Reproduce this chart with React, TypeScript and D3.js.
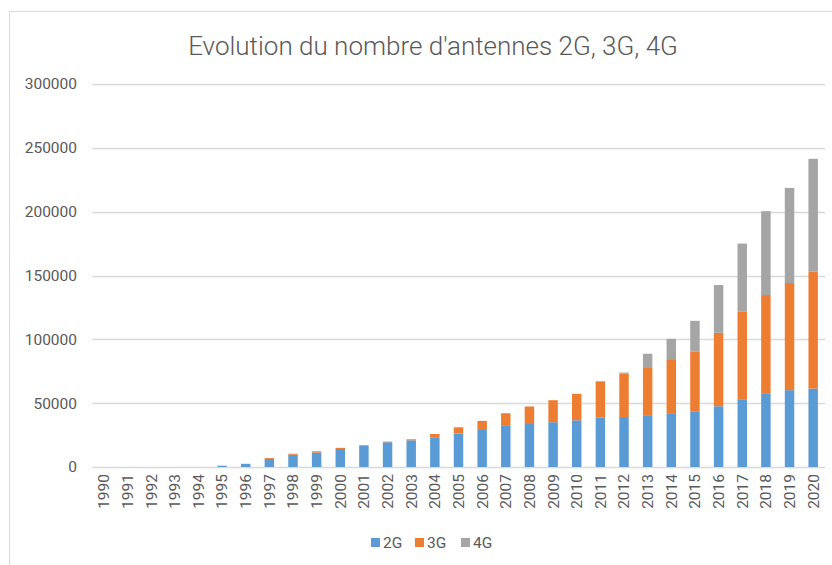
import React, { useEffect, useRef } from "react";
import * as d3 from "d3";

// Years on the x axis
const years = [
  "1990", "1991", "1992", "1993", "1994", "1995", "1996", "1997", "1998", "1999",
  "2000", "2001", "2002", "2003", "2004", "2005", "2006", "2007", "2008", "2009",
  "2010", "2011", "2012", "2013", "2014", "2015", "2016", "2017", "2018", "2019", "2020",
];

// Antenna counts per technology
const g2 = [
  0, 0, 0, 0, 0, 1000, 2500, 6300, 9600, 11300,
  14100, 16700, 19400, 20900, 23300, 26200, 29000, 32200, 33700, 35100,
  36600, 38600, 39200, 40600, 41600, 43200, 47600, 52600, 57800, 60200, 61500,
];
const g3 = [
  0, 0, 0, 0, 0, 0, 0, 700, 800, 1000,
  900, 500, 500, 800, 2600, 4900, 7100, 9900, 13700, 17200,
  20700, 28300, 34100, 37600, 42900, 47000, 57500, 69300, 76900, 83900, 91500,
];
const g4 = [
  0, 0, 0, 0, 0, 0, 0, 0, 0, 0,
  0, 0, 0, 0, 0, 0, 0, 0, 0, 0,
  0, 500, 700, 10500, 15900, 24300, 37400, 53100, 65700, 74500, 88400,
];

const seriesNames = ["2G", "3G", "4G"];
const yTicks = [0, 50000, 100000, 150000, 200000, 250000, 300000];

export default function App() {
  const chartRef = useRef<HTMLDivElement>(null);

  useEffect(() => {
    const width = 832;
    const height = 565;
    const margin = { top: 84, right: 7, bottom: 98, left: 92 };
    const font = "Roboto, 'Liberation Sans', sans-serif";
    const textColor = "#595959";

    const color = d3
      .scaleOrdinal<string>()
      .domain(seriesNames)
      .range(["#5B9BD5", "#ED7D31", "#A5A5A5"]);

    // Build table for stacking
    const table = years.map((y, i) => ({ year: y, "2G": g2[i], "3G": g3[i], "4G": g4[i] }));
    const stacked = d3.stack<any>().keys(seriesNames)(table);

    const x = d3
      .scaleBand()
      .domain(years)
      .range([margin.left, width - margin.right])
      .paddingInner(0.6)
      .paddingOuter(0.3);

    const y = d3
      .scaleLinear()
      .domain([0, 300000])
      .range([height - margin.bottom, margin.top]);

    const svg = d3
      .create("svg")
      .attr("width", width)
      .attr("height", height)
      .style("position", "absolute")
      .style("left", "0px")
      .style("top", "0px")
      .style("background", "#fff")
      .style("font-family", font);

    // chart frame
    svg
      .append("rect")
      .attr("x", 9.5)
      .attr("y", 11.5)
      .attr("width", 900)
      .attr("height", 700)
      .attr("fill", "#fff")
      .attr("stroke", "#d9d9d9");

    // title
    svg
      .append("text")
      .attr("x", 433)
      .attr("y", 55)
      .attr("text-anchor", "middle")
      .attr("fill", textColor)
      .style("font-size", "26px")
      .style("font-weight", 300)
      .text("Evolution du nombre d'antennes 2G, 3G, 4G");

    // gridlines
    svg
      .append("g")
      .selectAll("line")
      .data(yTicks)
      .join("line")
      .attr("x1", margin.left)
      .attr("x2", width - margin.right)
      .attr("y1", (d) => Math.round(y(d)) + 0.5)
      .attr("y2", (d) => Math.round(y(d)) + 0.5)
      .attr("stroke", "#d9d9d9")
      .attr("stroke-width", 1.3);

    // y tick labels
    svg
      .append("g")
      .selectAll("text")
      .data(yTicks)
      .join("text")
      .attr("x", 77)
      .attr("y", (d) => y(d))
      .attr("dy", "0.35em")
      .attr("text-anchor", "end")
      .attr("fill", textColor)
      .style("font-size", "15.5px")
      .text((d) => String(d));

    // bars
    svg
      .append("g")
      .selectAll("g")
      .data(stacked)
      .join("g")
      .attr("fill", (d) => color(d.key))
      .selectAll("rect")
      .data((d) => d)
      .join("rect")
      .attr("x", (d: any) => x(d.data.year)!)
      .attr("width", x.bandwidth())
      .attr("y", (d) => y(d[1]))
      .attr("height", (d) => y(d[0]) - y(d[1]));

    // x tick labels (rotated)
    svg
      .append("g")
      .selectAll("text")
      .data(years)
      .join("text")
      .attr(
        "transform",
        (d) => `translate(${x(d)! + x.bandwidth() / 2},474) rotate(-90)`
      )
      .attr("dy", "0.35em")
      .attr("text-anchor", "end")
      .attr("fill", textColor)
      .style("font-size", "15.5px")
      .text((d) => d);

    // legend
    const legendX = [371, 415, 461];
    const legend = svg
      .append("g")
      .selectAll("g")
      .data(seriesNames)
      .join("g")
      .attr("transform", (d, i) => `translate(${legendX[i]},543)`);
    legend
      .append("rect")
      .attr("x", 0)
      .attr("y", -5)
      .attr("width", 9)
      .attr("height", 9)
      .attr("fill", (d) => color(d));
    legend
      .append("text")
      .attr("x", 12)
      .attr("y", 0)
      .attr("dy", "0.35em")
      .attr("fill", textColor)
      .style("font-size", "15.5px")
      .text((d) => d);

    if (chartRef.current) {
      chartRef.current.innerHTML = "";
      chartRef.current.appendChild(svg.node()!);
    }
  }, []);

  return <div ref={chartRef} />;
}
